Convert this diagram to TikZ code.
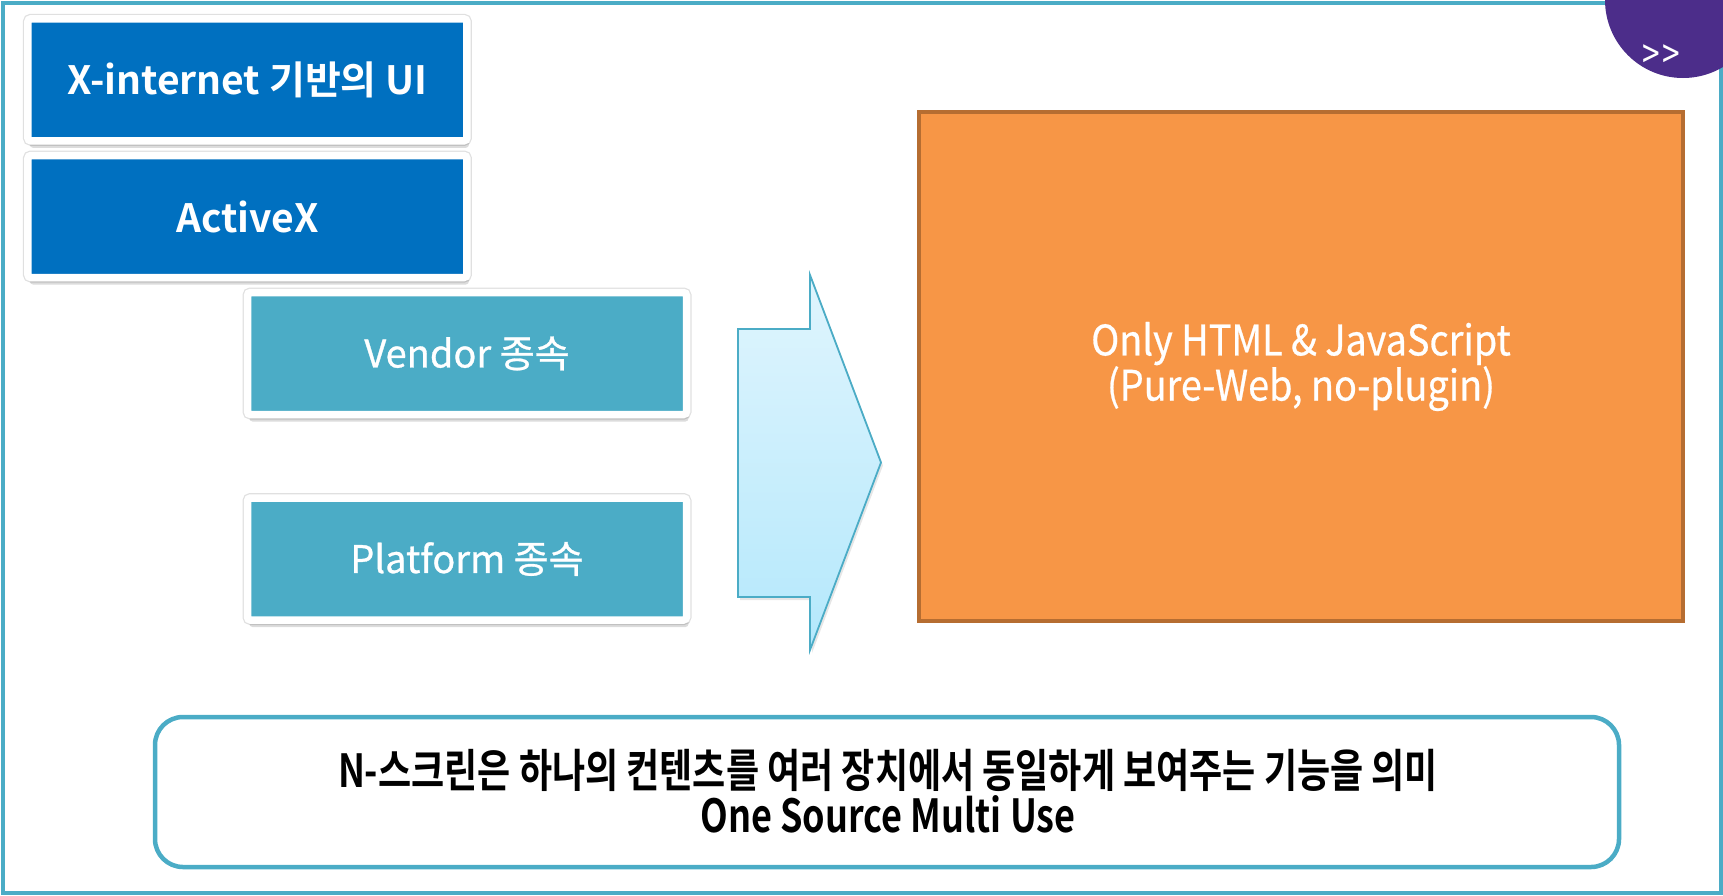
\documentclass[tikz,border=0pt]{standalone}
\usepackage{fontspec}
\setmainfont{Noto Sans CJK KR}[BoldFont={Noto Sans CJK KR Bold}]
\newfontfamily\krnarrow[FakeStretch=0.79]{Noto Sans CJK KR}[BoldFont={Noto Sans CJK KR Bold}]
\newfontfamily\krsemi[FakeBold=0.8]{Noto Sans CJK KR}
\newfontfamily\krslim[FakeStretch=0.9,FakeBold=0.6]{Noto Sans CJK KR}
\usetikzlibrary{shapes,arrows,positioning,calc,shadows}

\definecolor{frameteal}{HTML}{4BACC6}
\definecolor{boxblue}{HTML}{0070C0}
\definecolor{boxorange}{HTML}{F79646}
\definecolor{orangeedge}{HTML}{B66D31}
\definecolor{navpurple}{RGB}{76,45,138}
\definecolor{arrowtop}{HTML}{E0F5FD}
\definecolor{arrowbot}{HTML}{B4E8FC}

\tikzset{
  tile/.style={draw=white, line width=7.5pt, rounded corners=3pt, inner sep=0pt,
    minimum width=439pt, minimum height=122pt, text=white,
    drop shadow={shadow xshift=2pt, shadow yshift=-7pt, opacity=0.28},
    preaction={draw=black, draw opacity=0.12, line width=10pt}},
  bluebox/.style={tile, fill=boxblue, font=\bfseries\fontsize{39}{44}\selectfont},
  tealbox/.style={tile, fill=frameteal, font=\krsemi\fontsize{38}{44}\selectfont},
}

\begin{document}
\begin{tikzpicture}[x=1pt, y=-1pt]
\useasboundingbox (0,0) rectangle (1723,895);
\clip (0,0) rectangle (1723,895);

% 테두리
\draw[frameteal, line width=4pt] (3.3,3.3) rectangle (1720.5,893);
\fill[navpurple] (1683,0) circle (78pt);
\node[text=white, font=\krnarrow\fontsize{40}{40}\selectfont] (more) at (1661,57) {>\kern2pt>};

% 기존 방식
\node[bluebox] (xinet) at (247.4,79.8) {X-internet 기반의 UI};
\node[bluebox] (activex) at (247.4,216.5) {ActiveX};
\node[tealbox] (vendor) at (467,353.5) {Vendor 종속};
\node[tealbox] (platform) at (467,559) {Platform 종속};

% 화살표
\draw[frameteal, line width=1.8pt, top color=arrowtop, bottom color=arrowbot,
  drop shadow={shadow xshift=2pt, shadow yshift=-3pt, opacity=0.2}]
  (738,329) -- (810,329) -- (810,275) -- (881,462.5) -- (810,650)
  -- (810,597) -- (738,597) -- cycle;

% 결과
\node[fill=boxorange, draw=orangeedge, line width=4pt, inner sep=0pt,
  minimum width=764pt, minimum height=509pt, text=white, align=center,
  font=\krslim\fontsize{42}{43}\selectfont] (html) at (1301,366.5)
  {Only HTML \& JavaScript\\(Pure-Web, no-plugin)};

% 설명
\node[draw=frameteal, line width=4.5pt, rounded corners=28pt, inner sep=0pt,
  minimum width=1464pt, minimum height=150pt] (note) at (887,792) {};
\node[align=center, font=\krnarrow\bfseries\fontsize{45.6}{45}\selectfont] (notetext) at (888,791)
  {N-스크린은 하나의 컨텐츠를 여러 장치에서 동일하게 보여주는 기능을 의미\\One Source Multi Use};
\end{tikzpicture}
\end{document}
